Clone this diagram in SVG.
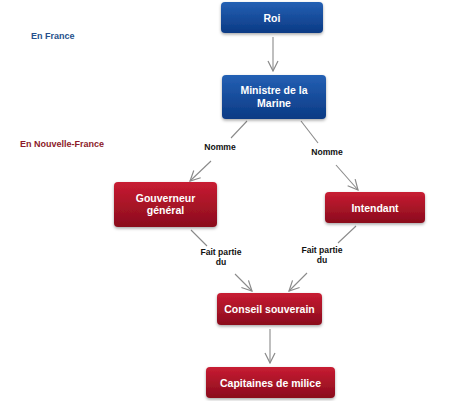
<svg xmlns="http://www.w3.org/2000/svg" width="474" height="401" viewBox="0 0 474 401">
<defs>
<linearGradient id="gb" x1="0" y1="0" x2="0" y2="1"><stop offset="0" stop-color="#2460b4"/><stop offset="1" stop-color="#0b3a84"/></linearGradient>
<linearGradient id="gr" x1="0" y1="0" x2="0" y2="1"><stop offset="0" stop-color="#c81c32"/><stop offset="1" stop-color="#8a0c1d"/></linearGradient>
<filter id="sh" x="-10%" y="-20%" width="120%" height="150%"><feDropShadow dx="0" dy="1.5" stdDeviation="1.5" flood-color="#000" flood-opacity="0.35"/></filter>
<marker id="ah" viewBox="0 0 12 12" refX="11" refY="6" markerWidth="12" markerHeight="12" markerUnits="userSpaceOnUse" orient="auto"><path d="M1,1 L11,6 L1,11" fill="none" stroke="#8a8a8a" stroke-width="1.2"/></marker>
<style>
.nb{fill:url(#gb);filter:url(#sh)}
.nr{fill:url(#gr);filter:url(#sh)}
.t{font-family:"Liberation Sans",Arial,sans-serif;font-weight:bold;font-size:10.5px;fill:#fff;text-anchor:middle}
.l{font-family:"Liberation Sans",Arial,sans-serif;font-weight:bold;font-size:8.6px;fill:#111;text-anchor:middle}
.c{stroke:#8a8a8a;stroke-width:1.1;fill:none}
.s{font-family:"Liberation Sans",Arial,sans-serif;font-weight:bold;font-size:9px}
</style>
</defs>
<rect width="474" height="401" fill="#fff"/>
<text class="s" x="31" y="39" fill="#26508c">En France</text>
<text class="s" x="20" y="147" fill="#8c1a2a">En Nouvelle-France</text>
<g id="connectors">
<line class="c" x1="273" y1="37" x2="273" y2="71" marker-end="url(#ah)"/>
<line class="c" x1="247" y1="121" x2="231" y2="138"/>
<line class="c" x1="211" y1="161" x2="190" y2="181" marker-end="url(#ah)"/>
<line class="c" x1="301" y1="121" x2="318" y2="143"/>
<line class="c" x1="336" y1="165" x2="358" y2="190" marker-end="url(#ah)"/>
<line class="c" x1="191" y1="230" x2="207" y2="246"/>
<line class="c" x1="235" y1="274" x2="252" y2="291" marker-end="url(#ah)"/>
<line class="c" x1="356" y1="226" x2="338" y2="243"/>
<line class="c" x1="307" y1="273" x2="289" y2="291" marker-end="url(#ah)"/>
<line class="c" x1="270" y1="329" x2="270" y2="363" marker-end="url(#ah)"/>
<text class="l" x="220" y="150">Nomme</text>
<text class="l" x="327" y="155">Nomme</text>
<text class="l" x="221" y="255">Fait partie</text>
<text class="l" x="221" y="265">du</text>
<text class="l" x="322" y="253">Fait partie</text>
<text class="l" x="322" y="263">du</text>
</g>
<g id="roi"><rect class="nb" x="221" y="2" width="102" height="31" rx="4"/><text class="t" x="272" y="21.5">Roi</text></g>
<g id="ministre"><rect class="nb" x="222" y="75" width="104" height="44" rx="4"/><text class="t" x="274" y="94">Ministre de la</text><text class="t" x="274" y="107">Marine</text></g>
<g id="gouverneur"><rect class="nr" x="114" y="182" width="103" height="45" rx="4"/><text class="t" x="165.5" y="202">Gouverneur</text><text class="t" x="165.5" y="214">général</text></g>
<g id="intendant"><rect class="nr" x="325" y="192" width="100" height="31" rx="4"/><text class="t" x="375" y="211.5">Intendant</text></g>
<g id="conseil"><rect class="nr" x="217" y="293" width="105" height="32" rx="4"/><text class="t" x="269.5" y="313">Conseil souverain</text></g>
<g id="capitaines"><rect class="nr" x="206" y="367" width="129" height="31" rx="4"/><text class="t" x="270.5" y="386.5">Capitaines de milice</text></g>
</svg>
